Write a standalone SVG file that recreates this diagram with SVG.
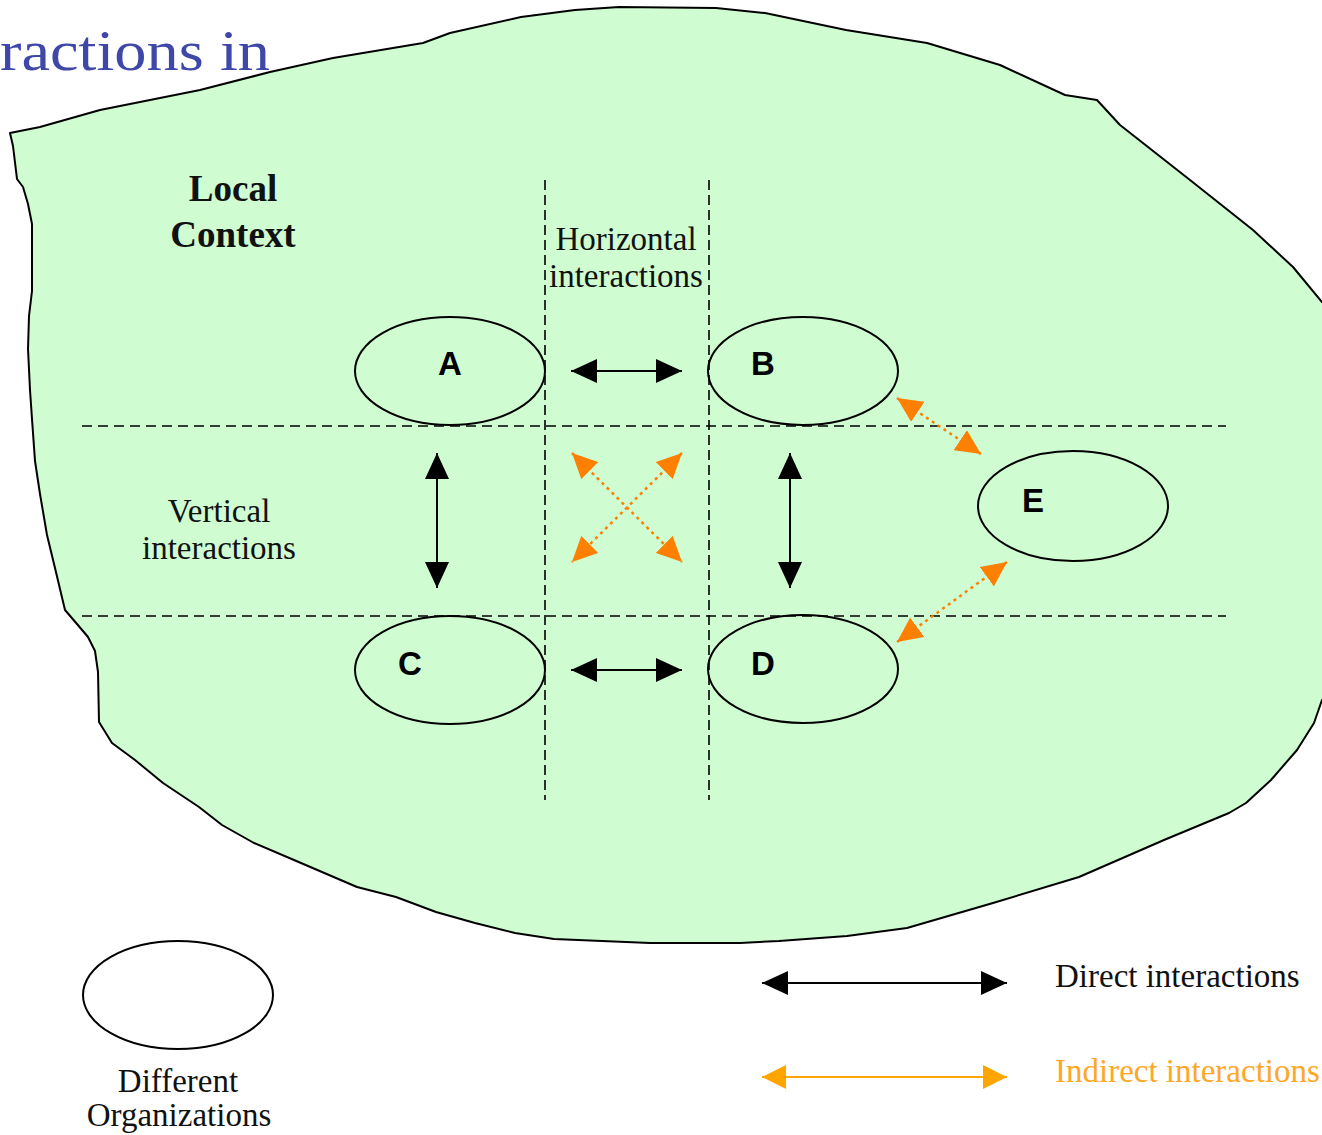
<svg xmlns="http://www.w3.org/2000/svg" width="1322" height="1135" viewBox="0 0 1322 1135">
<style>
.serif{font-family:"Liberation Serif","Times New Roman",serif;fill:#111}
.lbl{font-size:33px;text-anchor:middle}
.node{fill:none;stroke:#000;stroke-width:2}
.letter{font-family:"Liberation Sans",Arial,sans-serif;font-weight:bold;font-size:33px;text-anchor:middle;fill:#000}
.grid{stroke:#000;stroke-width:1.6;stroke-dasharray:10 6;fill:none}
.vgrid{stroke:#000;stroke-width:1.6;stroke-dasharray:10 5;fill:none}
.direct{stroke:#000;stroke-width:2;fill:none;marker-start:url(#ah);marker-end:url(#ah)}
.indirect{stroke:#FF7F00;stroke-width:2.5;stroke-dasharray:3 4;fill:none;marker-start:url(#oh);marker-end:url(#oh)}
</style>
<defs>
<marker id="ah" viewBox="0 0 26 24" refX="26" refY="12" markerWidth="26" markerHeight="24" markerUnits="userSpaceOnUse" orient="auto-start-reverse">
<path d="M0,0 L26,12 L0,24 Z" fill="#000"/>
</marker>
<marker id="oh" viewBox="0 0 25 24" refX="25" refY="12" markerWidth="25" markerHeight="24" markerUnits="userSpaceOnUse" orient="auto-start-reverse">
<path d="M0,0 L25,12 L0,24 Z" fill="#FF7F00"/>
</marker>
<marker id="lh" viewBox="0 0 24 24" refX="24" refY="12" markerWidth="24" markerHeight="24" markerUnits="userSpaceOnUse" orient="auto-start-reverse">
<path d="M0,0 L24,12 L0,24 Z" fill="#FFA500"/>
</marker>
</defs>
<rect width="1322" height="1135" fill="#fff"/>
<g id="local-context">
<path d="M10,133 L40,127 L100,110 L200,90 L270,72 L333,58 L423,43 L450,33 L521,17 L575,10 L619,7 L716,8 L765,13 L846,30 L927,43 L1000,65 L1065,95 L1097,100 L1120,125 L1190,180 L1253,230 L1293,267 L1322,302 L1326,302 L1326,700 L1322,700 L1314,723 L1297,750 L1271,780 L1246,803 L1229,813 L1164,840 L1079,877 L993,903 L907,928 L847,936 L779,941 L740,943 L650,943 L554,939 L515,933 L475,923 L436,912 L396,897 L357,887 L301,863 L254,843 L222,825 L199,807 L163,783 L135,760 L112,743 L99,722 L98,672 L95,651 L88,637 L77,624 L65,610 L55,568 L47,535 L40,494 L35,461 L32,419 L30,390 L28,349 L29,316 L32,291 L32,224 L28,204 L23,187 L17,179 L13,146 Z" fill="#CFFCD0" stroke="#000" stroke-width="2" stroke-linejoin="round"/>
<text class="serif" x="233" y="201" font-size="37" font-weight="bold" text-anchor="middle">Local</text>
<text class="serif" x="233" y="247" font-size="37" font-weight="bold" text-anchor="middle">Context</text>
</g>
<text x="0" y="70" font-family="'Liberation Serif','Times New Roman',serif" font-size="58" fill="#3F47A9" textLength="270" lengthAdjust="spacingAndGlyphs">ractions in</text>
<g id="grid">
<line class="vgrid" x1="545" y1="180" x2="545" y2="800"/>
<line class="vgrid" x1="709" y1="180" x2="709" y2="800"/>
<line class="grid" x1="82" y1="426" x2="1226" y2="426"/>
<line class="grid" x1="82" y1="616" x2="1226" y2="616"/>
</g>
<g id="horizontal-label">
<text class="serif lbl" x="626" y="250">Horizontal</text>
<text class="serif lbl" x="626" y="287">interactions</text>
</g>
<g id="vertical-label">
<text class="serif lbl" x="219" y="522">Vertical</text>
<text class="serif lbl" x="219" y="559">interactions</text>
</g>
<g id="node-A">
<ellipse class="node" cx="450" cy="371" rx="95" ry="54"/>
<text class="letter" x="450" y="375">A</text>
</g>
<g id="node-B">
<ellipse class="node" cx="803" cy="371" rx="95" ry="54"/>
<text class="letter" x="763" y="375">B</text>
</g>
<g id="node-C">
<ellipse class="node" cx="450" cy="670" rx="95" ry="54"/>
<text class="letter" x="410" y="675">C</text>
</g>
<g id="node-D">
<ellipse class="node" cx="803" cy="669" rx="95" ry="54"/>
<text class="letter" x="763" y="675">D</text>
</g>
<g id="node-E">
<ellipse class="node" cx="1073" cy="506" rx="95" ry="55"/>
<text class="letter" x="1033" y="512">E</text>
</g>
<g id="connectors">
<line class="direct" x1="571" y1="371" x2="682" y2="371"/>
<line class="direct" x1="571" y1="670" x2="682" y2="670"/>
<line class="direct" x1="437" y1="453" x2="437" y2="588"/>
<line class="direct" x1="790" y1="453" x2="790" y2="588"/>
<line class="indirect" x1="572" y1="453" x2="682" y2="562"/>
<line class="indirect" x1="682" y1="453" x2="572" y2="562"/>
<line class="indirect" x1="897" y1="398" x2="981" y2="454"/>
<line class="indirect" x1="1007" y1="562" x2="897" y2="642"/>
</g>
<g id="legend-organization">
<ellipse cx="178" cy="995" rx="95" ry="54" fill="#fff" stroke="#000" stroke-width="2"/>
<text class="serif lbl" x="178" y="1092">Different</text>
<text class="serif lbl" x="179" y="1126">Organizations</text>
</g>
<g id="legend-direct">
<line x1="762" y1="983" x2="1007" y2="983" stroke="#000" stroke-width="2" marker-start="url(#ah)" marker-end="url(#ah)"/>
<text class="serif" x="1055" y="987" font-size="33">Direct interactions</text>
</g>
<g id="legend-indirect">
<line x1="762" y1="1077" x2="1007" y2="1077" stroke="#FFA500" stroke-width="2" marker-start="url(#lh)" marker-end="url(#lh)"/>
<text x="1055" y="1082" font-family="'Liberation Serif','Times New Roman',serif" font-size="33" fill="#FFA726">Indirect interactions</text>
</g>
</svg>
